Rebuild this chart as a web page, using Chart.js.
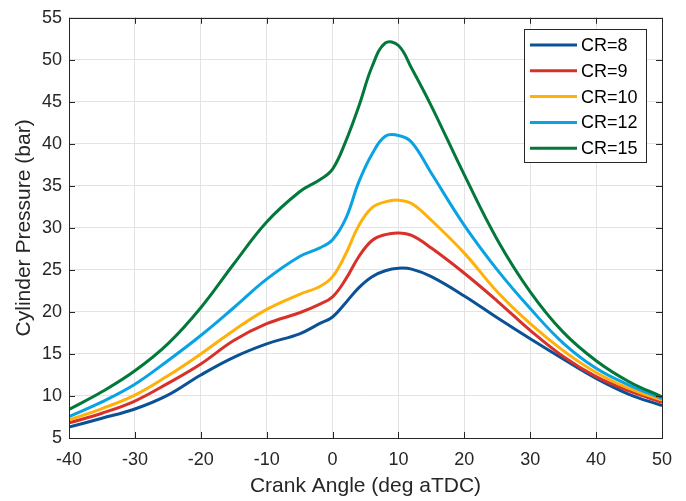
<!DOCTYPE html>
<html lang="en">
<head>
    <meta charset="UTF-8">
    <title>Cylinder Pressure</title>
    <style>
        html, body{
            margin: 0;
            padding: 0;
            background-color: #fff;
        }
        #diagramm{
            display: block;
        }
    </style>
</head>
<body>
    <canvas id="diagramm" width="686" height="501"></canvas>

    <script src="https://cdn.jsdelivr.net/npm/chart.js"></script>
    <script>
        // crank angle in deg aTDC
        const winkel = [-40, -35, -30, -25, -20, -15, -10, -5, -2, 0, 2, 4, 6, 8, 10, 12, 15, 20, 25, 30, 35, 40, 45, 50];

        // cylinder pressure in bar, one array per compression ratio
        const cr8  = [6.3, 7.35, 8.45, 10.1, 12.5, 14.6, 16.2, 17.4, 18.6, 19.4, 21.1, 22.9, 24.2, 24.9, 25.2, 25.1, 24.2, 21.9, 19.3, 16.8, 14.4, 12.1, 10.2, 8.85];
        const cr9  = [6.8, 7.95, 9.4, 11.5, 13.8, 16.6, 18.6, 19.9, 20.9, 21.8, 23.9, 26.6, 28.5, 29.2, 29.4, 29.1, 27.6, 24.6, 21.3, 17.8, 14.7, 12.3, 10.6, 9.25];
        const cr10 = [7.15, 8.5, 10.1, 12.4, 15.0, 17.8, 20.3, 22.1, 23.0, 24.2, 26.9, 30.3, 32.4, 33.1, 33.3, 32.9, 30.9, 27.0, 22.4, 18.6, 15.4, 12.8, 10.9, 9.5];
        const cr12 = [7.55, 9.3, 11.4, 14.2, 17.2, 20.5, 23.9, 26.6, 27.6, 28.6, 31.1, 35.5, 38.8, 40.9, 41.0, 40.2, 36.5, 30.3, 25.0, 20.4, 16.3, 13.3, 11.3, 9.7];
        const cr15 = [8.4, 10.5, 13.0, 16.2, 20.5, 25.7, 30.7, 34.3, 35.7, 37.0, 40.3, 44.5, 49.2, 52.0, 51.7, 49.0, 44.5, 36.3, 28.6, 22.4, 17.6, 14.2, 11.7, 9.9];

        const namen = ['CR=8', 'CR=9', 'CR=10', 'CR=12', 'CR=15'];
        const farben = ['#0b5196', '#d8312a', '#ffb10a', '#09a2e3', '#03783b'];
        const reihen = [cr8, cr9, cr10, cr12, cr15];

        const schrift = '"Liberation Sans", Arial, sans-serif';
        const textFarbe = '#262626';

        // Rahmen um die Achsen mit Ticks nach innen
        const rahmen = {
            id: 'rahmen',
            afterDatasetsDraw(chart) {
                const {ctx, chartArea: a, scales: {x, y}} = chart;
                const len = 6;
                ctx.save();
                ctx.strokeStyle = textFarbe;
                ctx.lineWidth = 1;
                ctx.beginPath();
                x.ticks.forEach(t => {
                    const px = Math.round(x.getPixelForValue(t.value)) + 0.5;
                    ctx.moveTo(px, a.bottom); ctx.lineTo(px, a.bottom - len);
                    ctx.moveTo(px, a.top); ctx.lineTo(px, a.top + len);
                });
                y.ticks.forEach(t => {
                    const py = Math.round(y.getPixelForValue(t.value)) + 0.5;
                    ctx.moveTo(a.left, py); ctx.lineTo(a.left + len, py);
                    ctx.moveTo(a.right, py); ctx.lineTo(a.right - len, py);
                });
                ctx.stroke();
                ctx.strokeRect(Math.round(a.left) + 0.5, Math.round(a.top) + 0.5,
                    Math.round(a.right - a.left), Math.round(a.bottom - a.top));
                ctx.restore();
            },
            afterDraw(chart) {
                // Legende oben rechts im Diagramm
                const ctx = chart.ctx;
                const bx = 524.5, by = 29.5, bw = 122, bh = 133;
                ctx.save();
                ctx.fillStyle = '#fff';
                ctx.fillRect(bx, by, bw, bh);
                ctx.strokeStyle = textFarbe;
                ctx.lineWidth = 1;
                ctx.strokeRect(bx, by, bw, bh);
                ctx.font = '18px ' + schrift;
                ctx.textBaseline = 'middle';
                chart.data.datasets.forEach((ds, i) => {
                    const zy = 45 + i * 25.8;
                    ctx.strokeStyle = ds.borderColor;
                    ctx.lineWidth = 3;
                    ctx.beginPath();
                    ctx.moveTo(530, zy);
                    ctx.lineTo(577, zy);
                    ctx.stroke();
                    ctx.fillStyle = '#000';
                    ctx.fillText(ds.label, 581, zy + 1);
                });
                ctx.restore();
            }
        };

        new Chart(document.getElementById('diagramm').getContext('2d'), {
            type: 'line',
            data: {
                datasets: reihen.map((werte, i) => ({
                    label: namen[i],
                    data: winkel.map((w, k) => ({x: w, y: werte[k]})),
                    borderColor: farben[i],
                    borderWidth: 3,
                    pointRadius: 0,
                    tension: 0.4,
                    fill: false,
                    order: reihen.length - i
                }))
            },
            options: {
                responsive: false,
                animation: false,
                layout: {
                    padding: {left: 0, top: 14, right: 24, bottom: 0}
                },
                plugins: {
                    legend: {display: false},
                    tooltip: {enabled: false}
                },
                scales: {
                    x: {
                        type: 'linear',
                        min: -40,
                        max: 50,
                        afterFit: s => { s.height = 63; },
                        ticks: {
                            stepSize: 10,
                            color: textFarbe,
                            padding: 11,
                            font: {family: schrift, size: 18}
                        },
                        grid: {color: '#e3e3e3', drawTicks: false},
                        border: {display: false},
                        title: {
                            display: true,
                            text: 'Crank Angle (deg aTDC)',
                            color: textFarbe,
                            font: {family: schrift, size: 21},
                            padding: {top: 0, bottom: 2}
                        }
                    },
                    y: {
                        min: 5,
                        max: 55,
                        afterFit: s => { s.width = 69; },
                        ticks: {
                            stepSize: 5,
                            color: textFarbe,
                            padding: 7,
                            font: {family: schrift, size: 18}
                        },
                        grid: {color: '#e3e3e3', drawTicks: false},
                        border: {display: false},
                        title: {
                            display: true,
                            text: 'Cylinder Pressure (bar)',
                            color: textFarbe,
                            font: {family: schrift, size: 21},
                            padding: {top: 12, bottom: 0}
                        }
                    }
                }
            },
            plugins: [rahmen]
        });
    </script>
</body>
</html>
